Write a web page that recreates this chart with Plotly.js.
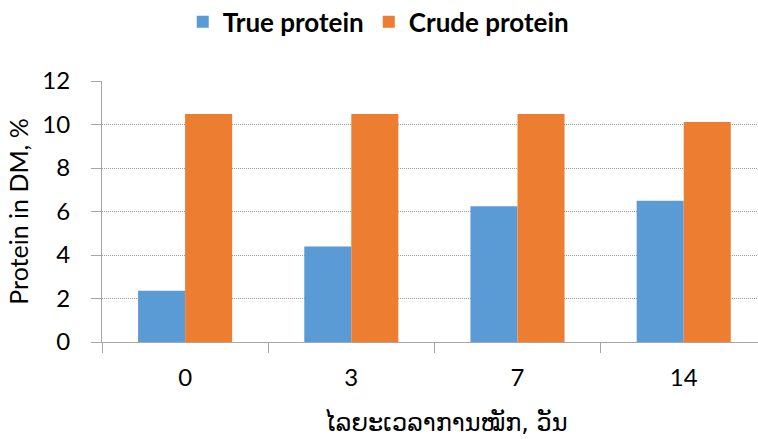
<!DOCTYPE html>
<html>
<head>
<meta charset="utf-8">
<script src="https://cdn.plot.ly/plotly-3.0.1.min.js"></script>
<style>
html,body{margin:0;padding:0;background:#fff;overflow:hidden;}
#chart{width:758px;height:439px;}
</style>
</head>
<body>
<div id="chart"></div>
<script>
const categories = ["0", "3", "7", "14"];
const trueProtein = [2.36, 4.39, 6.24, 6.49];
const crudeProtein = [10.48, 10.48, 10.48, 10.11];
const seriesNames = ["True protein", "Crude protein"];
const xTitle = "ໄລຍະເວລາການໝັກ, ວັນ";
const yTitle = "Protein in DM, %";
const yTicks = [0, 2, 4, 6, 8, 10, 12];

const axisGrey = "#a6a6a6";
const baseFont = "Lato, 'Open Sans', sans-serif";

const data = [
  {type: "bar", name: seriesNames[0], x: categories, y: trueProtein,
   marker: {color: "#5B9BD5", line: {width: 0}}},
  {type: "bar", name: seriesNames[1], x: categories, y: crudeProtein,
   marker: {color: "#ED7D31", line: {width: 0}}}
];

const layout = {
  width: 758, height: 439,
  margin: {l: 102, r: 0, t: 81, b: 97, pad: 0},
  paper_bgcolor: "#fff", plot_bgcolor: "#fff",
  font: {family: baseFont, size: 24, color: "#000"},
  barmode: "group", bargap: 0.434, bargroupgap: 0,
  showlegend: true,
  legend: {orientation: "h", xref: "container", yref: "container",
           x: 0.499, xanchor: "center", y: 0.95, yanchor: "middle",
           font: {family: baseFont, size: 26, color: "#000", weight: "bold"},
           traceorder: "normal"},
  xaxis: {type: "category", range: [-0.5, 3.447], autorange: false,
          showline: true, linecolor: axisGrey, linewidth: 1,
          ticks: "outside", tickson: "boundaries", ticklen: 10, tickcolor: axisGrey,
          showgrid: false, zeroline: false, ticklabelstandoff: 14,
          tickfont: {family: baseFont, size: 24, color: "#000"}},
  yaxis: {range: [0, 12], autorange: false, tickvals: yTicks,
          showline: true, linecolor: axisGrey, linewidth: 1,
          ticks: "outside", ticklen: 10, tickcolor: axisGrey,
          showgrid: true, gridcolor: "#9a9a9a", griddash: "1px,1px", gridwidth: 1,
          zeroline: false, ticklabelstandoff: 16,
          tickfont: {family: baseFont, size: 24, color: "#000"},
          title: {text: yTitle, font: {family: baseFont, size: 25, color: "#000"}, standoff: 6}},
  annotations: [
    {text: xTitle, xref: "paper", yref: "paper", x: 0.524, y: -0.308,
     xanchor: "center", yanchor: "middle", showarrow: false,
     font: {family: "'DejaVu Sans', sans-serif", size: 24, color: "#000"}}
  ]
};

Plotly.newPlot("chart", data, layout, {staticPlot: true, displayModeBar: false});
</script>
</body>
</html>
